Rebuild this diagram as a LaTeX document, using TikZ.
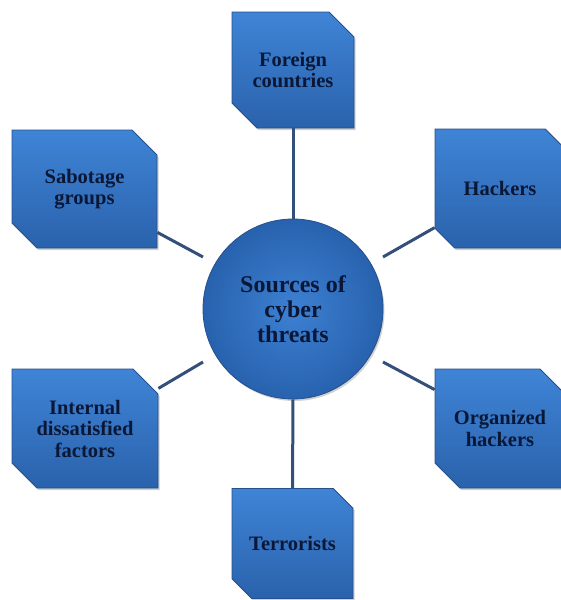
\documentclass[tikz,border=0pt]{standalone}
\usepackage{fontspec}
\setmainfont{Liberation Serif}
\usetikzlibrary{shapes.misc,shadows,calc}
\definecolor{boxtop}{HTML}{3F84D6}
\definecolor{boxbot}{HTML}{2A62AC}
\definecolor{edgeblue}{HTML}{24508C}
\definecolor{navytext}{HTML}{0A1736}
\definecolor{linecol}{HTML}{34507A}
\definecolor{hubin}{HTML}{3D80D2}
\definecolor{hubout}{HTML}{2862AE}
\begin{document}
\begin{tikzpicture}[x=1pt,y=-1pt,
  cbox/.style={chamfered rectangle,
    chamfered rectangle corners={north east,south west},
    chamfered rectangle xsep=12.5pt, chamfered rectangle ysep=12.5pt,
    draw=edgeblue, line width=0.8pt, top color=boxtop, bottom color=boxbot,
    inner sep=0pt, align=center,
    font=\fontsize{20.5}{21.5}\selectfont\bfseries, text=navytext,
    drop shadow={shadow xshift=1.5pt, shadow yshift=-2pt, opacity=0.3, fill=black!60}},
  hub/.style={circle, draw=edgeblue, line width=0.8pt, inner color=hubin, outer color=hubout,
    minimum size=180pt, inner sep=0pt, align=center,
    font=\fontsize{24}{25}\selectfont\bfseries, text=navytext,
    drop shadow={shadow xshift=1.5pt, shadow yshift=-2pt, opacity=0.3, fill=black!60}},
  link/.style={draw=linecol, line width=3pt}]
\useasboundingbox (0,0) rectangle (560,600);
\node[hub] (hub) at (293,309) {Sources of\\cyber\\threats};
\node[cbox, minimum width=122pt, minimum height=116pt] (foreign) at (293,70) {Foreign\\countries};
\node[cbox, minimum width=145pt, minimum height=118pt] (sabotage) at (84.5,189) {Sabotage\\groups};
\node[cbox, minimum width=130pt, minimum height=119pt] (hackers) at (500,188.5) {Hackers};
\node[cbox, minimum width=146pt, minimum height=119pt] (internal) at (85,428.5) {Internal\\dissatisfied\\factors};
\node[cbox, minimum width=130pt, minimum height=119pt] (organized) at (500,428.5) {Organized\\hackers};
\node[cbox, minimum width=121pt, minimum height=110pt] (terror) at (292.5,543.5) {Terrorists};
\coordinate (hubUL) at ($(hub.center)+(-90,-52)$);
\coordinate (hubUR) at ($(hub.center)+(90,-52)$);
\coordinate (hubLL) at ($(hub.center)+(-90,53)$);
\coordinate (hubLR) at ($(hub.center)+(90,53)$);
\draw[link] (foreign.south) -- (hub.north);
\draw[link] (hub.south) -- (terror.north);
\draw[link] ([yshift=16pt]sabotage.south east) -- (hubUL);
\draw[link] (hubUR) -- ([yshift=-99pt]hackers.north west);
\draw[link] ([yshift=100pt]internal.south east) -- (hubLL);
\draw[link] (hubLR) -- ([yshift=-21pt]organized.north west);
\end{tikzpicture}
\end{document}
